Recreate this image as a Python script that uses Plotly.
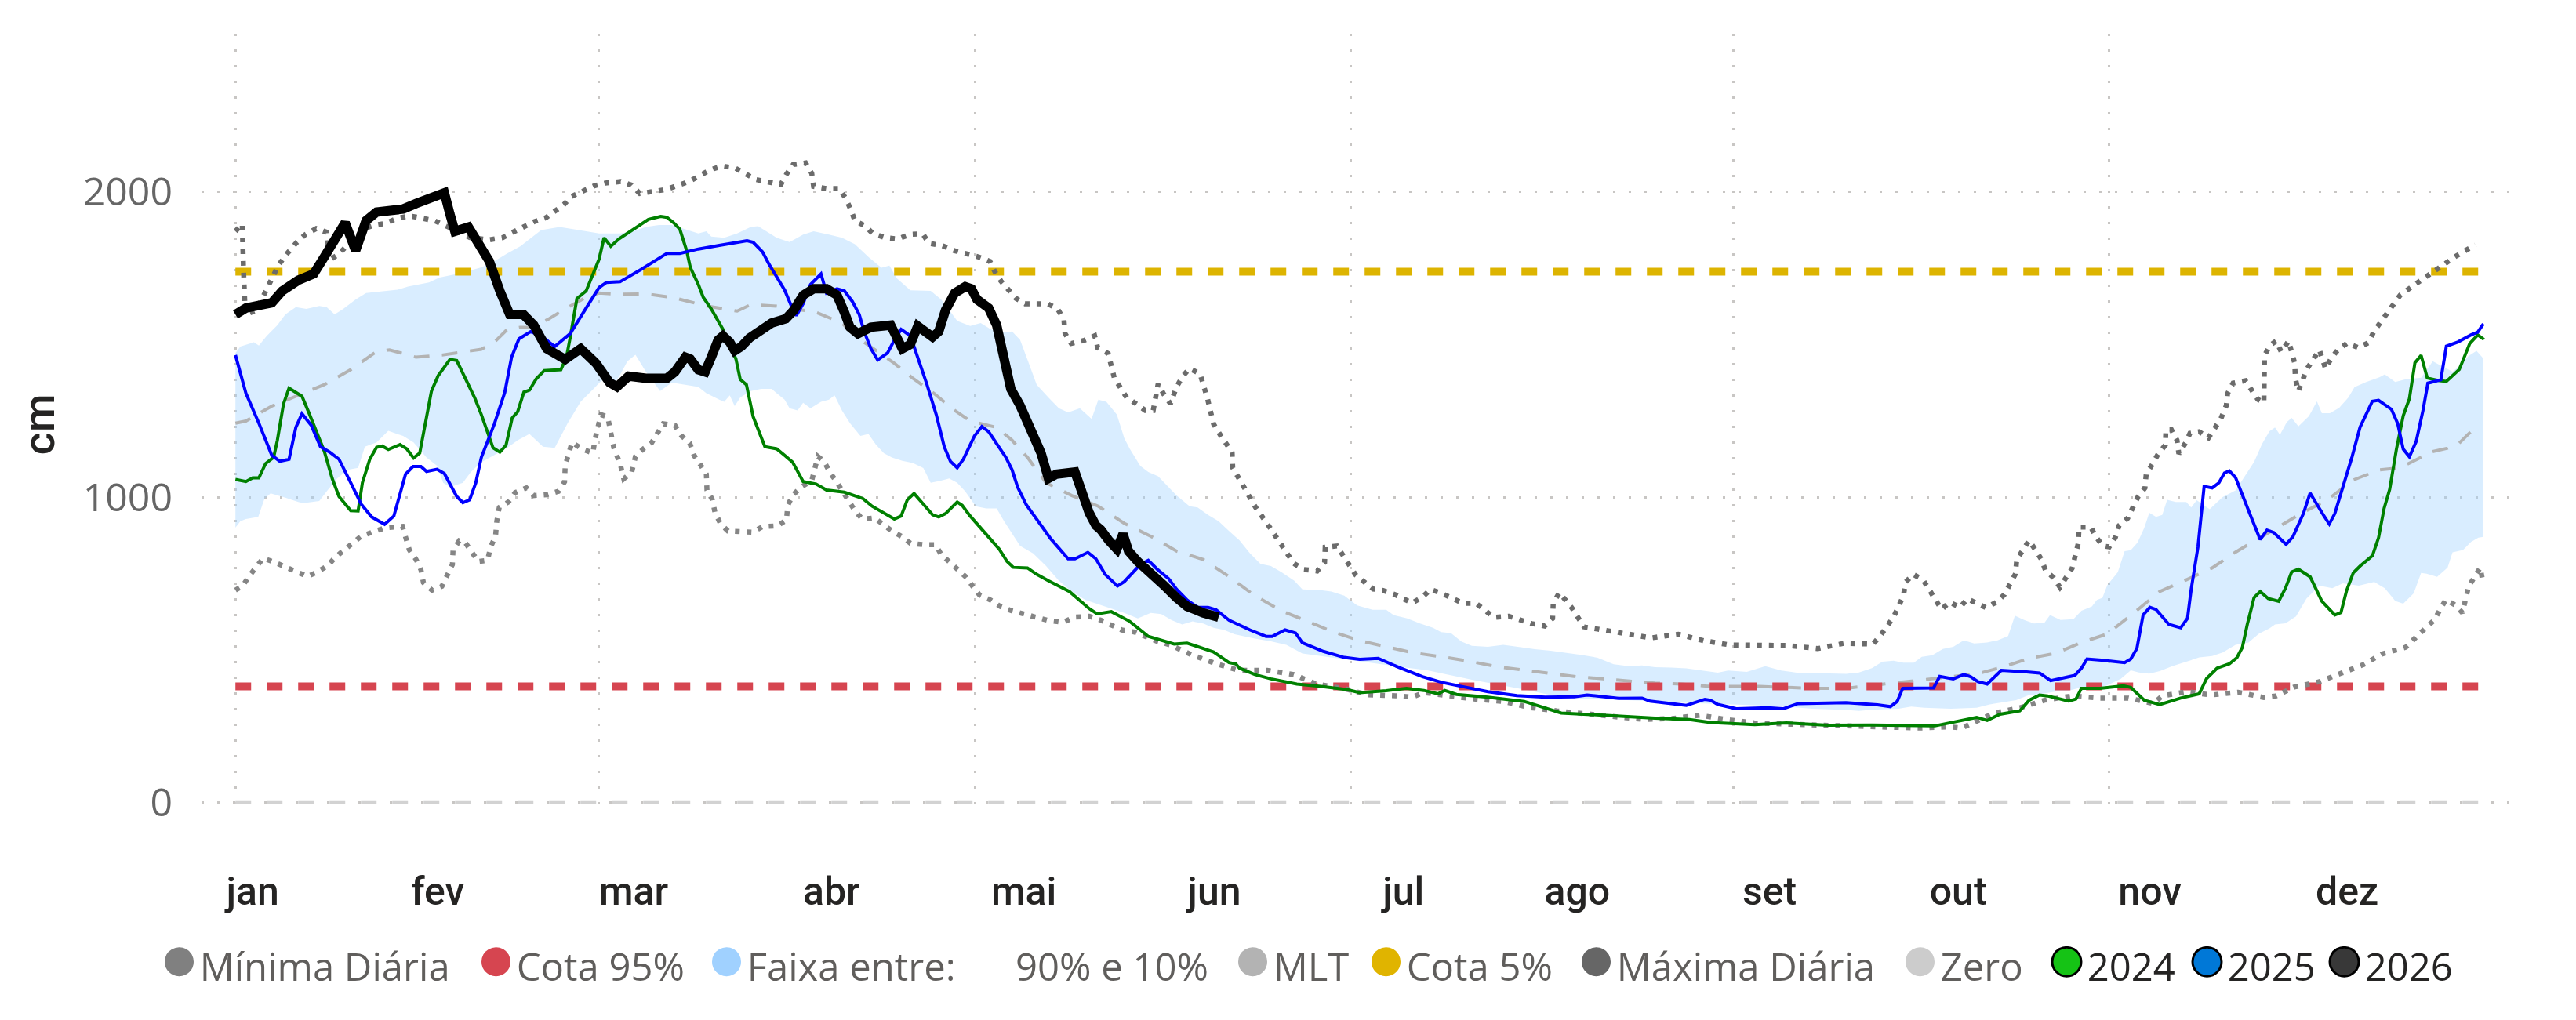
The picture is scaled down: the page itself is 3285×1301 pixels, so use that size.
import plotly.graph_objects as go

# ---------------- data (day of year, value in cm) ----------------
months = ["jan", "fev", "mar", "abr", "mai", "jun", "jul", "ago", "set", "out", "nov", "dez"]
month_label_days = [2.8, 32.8, 64.6, 96.7, 127.9, 158.8, 189.5, 217.7, 248.9, 279.5, 310.6, 342.6]
grid_days = [0, 59, 120, 181, 243, 304]
y_ticks = [0, 1000, 2000]
year_span = [0, 364.7]

cota_95 = 380
cota_5 = 1738
zero_level = 0

minima_diaria = [
    (0, 695), (1.2, 710), (2.2, 741), (3.3, 772), (4.5, 800), (6.3, 787), (8.1, 772), (9.8, 754),
    (11.7, 740), (13.4, 756), (15, 776), (16.2, 803), (17.5, 826), (19, 849), (20.4, 872),
    (22.3, 886), (24.2, 899), (27.1, 904), (28.2, 828), (29.3, 796), (30.1, 762), (30.5, 720),
    (31.9, 695), (33.5, 708), (34.4, 742), (35.2, 779), (35.3, 826), (36.3, 857), (37.3, 851),
    (38.3, 821), (39.4, 789), (40.9, 793), (41.4, 837), (42.2, 872), (42.4, 921), (42.8, 966),
    (44.3, 984), (45.4, 1015), (47.2, 1030), (48.4, 1005), (50.5, 1008), (52.4, 1019),
    (53.4, 1050), (53.5, 1103), (54.6, 1179), (56.2, 1158), (58, 1144), (58.3, 1186),
    (59.3, 1270), (60.4, 1262), (61.4, 1160), (62.4, 1110), (63, 1060), (64.3, 1082),
    (64.9, 1133), (66.3, 1160), (67.5, 1177), (68.4, 1207), (69.4, 1240), (71.3, 1235),
    (72.4, 1200), (73.7, 1177), (74.4, 1137), (75.4, 1107), (76.4, 1075), (76.5, 1023),
    (77.4, 991), (77.8, 949), (78.7, 913), (79.9, 889), (81.8, 889), (83.9, 885), (85.5, 903),
    (87.9, 906), (89.4, 925), (89.6, 973), (90.5, 1008), (91.8, 1033), (93.5, 1054),
    (94.5, 1133), (95.5, 1117), (96.4, 1082), (97.5, 1051), (98.4, 1019), (99.5, 987),
    (100.5, 956), (101.7, 928), (103.7, 932), (104.8, 914), (106.5, 889), (108.1, 871),
    (109.5, 849), (111.7, 844), (113.6, 844), (114.5, 812), (115.9, 786), (117.3, 763),
    (118.6, 737), (119.6, 708), (120.7, 680), (122.5, 663), (124.1, 642), (125.9, 628),
    (127.9, 617), (131.9, 596), (134.3, 590), (136.1, 607), (138.5, 610), (140.4, 597),
    (143.8, 565), (145.9, 558), (149.5, 528), (151.7, 516), (155.1, 484), (158.9, 456),
    (162.7, 433), (167.4, 433), (171.7, 419), (175.4, 388), (179.9, 373), (183.7, 353),
    (188.6, 349), (190.9, 345), (192.8, 360), (197, 349), (201.4, 338), (205.7, 331),
    (210, 311), (214.4, 300), (219.1, 290), (223.8, 282), (228.4, 272), (233.1, 275),
    (237.6, 286), (241.8, 272), (246.4, 261), (251.3, 257), (256, 254), (263.3, 247),
    (268.1, 247), (273.1, 244), (277.9, 248), (280.1, 244), (282, 262), (285.3, 293),
    (289.5, 310), (293.5, 335), (298, 349), (302.5, 342), (307.1, 342), (311.2, 324),
    (312.6, 349), (316.7, 363), (320.5, 352), (324.9, 361), (329.1, 344), (331.1, 349),
    (334, 378), (338, 395), (341.6, 423), (345.3, 452), (348.2, 486), (352.1, 508),
    (354.1, 548), (356.7, 597), (358.6, 664), (360.2, 646), (361.3, 621), (362.3, 707),
    (364.2, 769), (364.6, 725),
]

maxima_diaria = [
    (0, 1870), (1.1, 1894), (1.3, 1750), (1.6, 1597), (3.4, 1612), (5.2, 1688), (7, 1760),
    (8.5, 1800), (9.9, 1833), (11.3, 1859), (13.1, 1879), (14.8, 1867), (15.2, 1775),
    (16.6, 1793), (18, 1820), (19.5, 1850), (21, 1880), (22.5, 1890), (24.3, 1896),
    (26.1, 1911), (28.1, 1921), (30.3, 1913), (32.4, 1904), (35, 1880), (38, 1850),
    (41.1, 1842), (43.3, 1849), (45.2, 1869), (48.4, 1901), (50.4, 1915), (51.9, 1935),
    (53.3, 1958), (54.5, 1984), (56.2, 2000), (58.2, 2019), (60, 2028), (62.5, 2033),
    (64.2, 2022), (65.6, 1994), (69.9, 2007), (73.7, 2034), (77, 2071), (78.9, 2084),
    (81.1, 2077), (84.4, 2040), (86.5, 2031), (88.5, 2024), (89.4, 2057), (90.5, 2089),
    (92.5, 2094), (93.5, 2060), (93.8, 2017), (95.9, 2010), (98, 2010), (99, 1978),
    (99.8, 1943), (100.5, 1905), (102.2, 1887), (103.4, 1863), (105.4, 1849), (107.5, 1845),
    (109.4, 1860), (111.5, 1862), (112.5, 1831), (114.7, 1823), (116.6, 1807), (118.6, 1798),
    (120.6, 1786), (122.4, 1772), (123.2, 1738), (124.2, 1707), (125.4, 1678), (126.6, 1651),
    (128.1, 1633), (131.8, 1633), (133.4, 1615), (134.4, 1583), (134.6, 1535), (135.6, 1503),
    (137.7, 1513), (139.4, 1528), (139.9, 1489), (141.6, 1470), (142.6, 1389), (143.6, 1357),
    (144.6, 1326), (146.1, 1306), (147.6, 1284), (148.9, 1284), (149.7, 1371), (150.6, 1337),
    (151.7, 1306), (152.7, 1361), (153.7, 1396), (154.8, 1421), (156.5, 1403), (157.7, 1323),
    (158.7, 1239), (159.6, 1209), (161.7, 1146), (161.8, 1096), (163.7, 1033), (165.5, 967),
    (167.6, 907), (169.7, 846), (171.7, 783), (173.3, 763), (175.5, 758), (176.7, 786),
    (176.8, 836), (178.7, 840), (180.7, 775), (181.8, 744), (184.6, 699), (186.2, 694),
    (188.1, 681), (190.9, 653), (192.6, 673), (193.9, 698), (195.8, 684), (199.2, 652),
    (201.3, 652), (204.2, 606), (206.6, 610), (210.3, 586), (212.4, 578), (213.7, 603),
    (213.8, 653), (214.8, 687), (216.8, 638), (218.8, 575), (221, 568), (225.5, 555),
    (229.7, 539), (234.1, 551), (238.2, 530), (242.5, 516), (247.3, 514), (252, 514),
    (256.7, 504), (260.9, 521), (265.7, 519), (266.9, 547), (269, 607), (270.6, 676),
    (271, 722), (272.2, 747), (273.8, 729), (275.7, 663), (276.8, 632), (278.1, 656),
    (279.8, 639), (281, 667), (284, 638), (285.7, 656), (287, 681), (288.8, 749), (289, 796),
    (290, 826), (291, 858), (292, 828), (293, 796), (293.7, 758), (295, 736), (296, 705),
    (297, 737), (298, 768), (299, 850), (299.1, 902), (301, 902), (301.9, 868), (303, 840),
    (304, 837), (305, 868), (305.6, 907), (307, 931), (308.7, 1002), (309.8, 1030),
    (310, 1075), (311, 1107), (311.9, 1140), (313.1, 1170), (313.2, 1220), (314.1, 1220),
    (315, 1186), (315.3, 1142), (316.4, 1178), (317.1, 1209), (318.6, 1214), (320.1, 1194),
    (321.1, 1226), (322.1, 1256), (323, 1300), (323.2, 1339), (324.1, 1373), (326.1, 1381),
    (328.1, 1320), (329.1, 1309), (329.2, 1464), (330.1, 1497), (331.1, 1511), (331.9, 1476),
    (333.1, 1511), (334.1, 1438), (334.2, 1388), (334.7, 1347), (336.1, 1420), (337.1, 1452),
    (338.1, 1482), (339.1, 1420), (340, 1454), (341.1, 1482), (342.6, 1504), (344.4, 1489),
    (346.1, 1506), (346.9, 1541), (349, 1602), (351.2, 1661), (354.1, 1703), (357.1, 1745),
    (360.2, 1788), (363.4, 1826),
]

faixa_90 = [
    (0, 1472), (0.8, 1493), (3, 1507), (3.8, 1496), (5.1, 1528), (6.8, 1563), (8.1, 1598),
    (9.8, 1622), (11.5, 1616), (13.6, 1626), (14.8, 1622), (16.1, 1598), (17.4, 1615),
    (19.5, 1647), (21.2, 1668), (22.9, 1672), (26.3, 1679), (28, 1689), (31.4, 1703),
    (33.1, 1719), (36.5, 1733), (39.9, 1752), (42, 1772), (44.1, 1798), (46.2, 1821),
    (49.6, 1874), (52.6, 1884), (56.9, 1870), (59, 1863), (62.4, 1863), (64.5, 1870),
    (66.6, 1884), (68.7, 1891), (70.8, 1891), (73, 1877), (75.1, 1863), (76.4, 1870),
    (77.2, 1853), (79.3, 1849), (81.4, 1863), (83.6, 1884), (84.8, 1887), (87.8, 1849),
    (89.9, 1835), (92.1, 1859), (93.8, 1870), (96.3, 1859), (98.4, 1849), (100.5, 1828),
    (102.7, 1786), (104.8, 1751), (106.1, 1758), (107.3, 1716), (109.5, 1677), (112.8, 1675),
    (114.5, 1647), (115.8, 1612), (117.1, 1577), (119.2, 1560), (120.9, 1570), (122.6, 1549),
    (124.3, 1538), (126, 1542), (127.3, 1515), (128.5, 1450), (130, 1368), (131.9, 1326),
    (133.6, 1291), (135.1, 1277), (137, 1291), (138.9, 1256), (140, 1319), (141.3, 1312),
    (143, 1270), (144.2, 1193), (145.1, 1158), (146.8, 1102), (148.1, 1082), (149.7, 1068),
    (151, 1040), (152.7, 1005), (154.8, 970), (156.1, 966), (157.8, 942), (159.5, 921),
    (161.2, 889), (162.9, 858), (164.6, 816), (166.3, 781), (168, 774), (169.7, 754),
    (171.8, 726), (173.1, 698), (176.1, 695), (177.8, 691), (179.9, 677), (182, 645),
    (184.5, 631), (186.7, 631), (187.9, 614), (190.1, 603), (192.2, 586), (194.3, 572),
    (195.6, 558), (197.2, 555), (198.9, 527), (200.6, 513), (203.2, 510), (205.7, 516),
    (208.3, 509), (210.8, 502), (213.4, 497), (215.9, 490), (218.5, 483), (221, 474),
    (223.6, 453), (226.1, 446), (228.2, 449), (230.3, 443), (232.9, 442), (235.4, 439),
    (238, 432), (240.5, 425), (242.2, 432), (245.2, 428), (248.2, 446), (250.8, 432),
    (253.3, 425), (255.9, 424), (261.3, 421), (263.4, 426), (265.5, 440), (267.2, 461),
    (269, 464), (270.6, 458), (272.3, 458), (273.6, 477), (275.3, 482), (277, 503),
    (278.7, 510), (280.4, 531), (282.1, 521), (284.2, 524), (285.9, 531), (287.6, 545),
    (288.7, 612), (290.2, 598), (291.8, 586), (293.5, 589), (294.4, 614), (296.1, 598),
    (298.2, 600), (299.5, 628), (301.2, 642), (302, 663), (302.9, 670), (303.7, 712),
    (305.4, 754), (306.5, 823), (307.5, 826), (308.6, 851), (309.7, 900), (310.5, 949),
    (311.6, 935), (312.6, 942), (313.4, 991), (314.8, 984), (316.5, 984), (317.3, 966),
    (318.2, 990), (320.3, 960), (322.4, 1000), (324.5, 1022), (326.2, 1073), (327.5, 1115),
    (328.8, 1174), (330, 1216), (330.9, 1228), (331.7, 1204), (332.8, 1245), (333.6, 1259),
    (334.7, 1232), (336.4, 1265), (337.7, 1313), (338.5, 1275), (339.8, 1275), (341.3, 1292),
    (342.8, 1326), (343.8, 1360), (345.7, 1377), (347.9, 1393), (348.7, 1402), (350.4, 1377),
    (352.1, 1386), (354.6, 1391), (356.5, 1445), (358, 1428), (359.7, 1411), (360.6, 1425),
    (362.3, 1462), (363.6, 1479), (364.7, 1454),
]

faixa_10 = [
    (0, 900), (0.8, 921), (1.7, 928), (3.7, 935), (4.7, 994), (5.7, 1012), (8.1, 998),
    (10.2, 984), (11, 980), (13.6, 987), (14.8, 1019), (16.5, 1061), (18.2, 1089),
    (19.9, 1096), (21, 1165), (22.9, 1179), (24.8, 1217), (27.2, 1200), (28.9, 1179),
    (31, 1130), (32.7, 1103), (33.7, 1047), (34.8, 1033), (36.9, 1047), (38.2, 1082),
    (39.9, 1114), (42, 1137), (44.1, 1161), (45.8, 1186), (47.7, 1207), (49.9, 1165),
    (51.8, 1161), (53.9, 1242), (56, 1312), (58.1, 1354), (59.4, 1382), (61.1, 1361),
    (62.4, 1400), (63.6, 1445), (64.9, 1466), (66.6, 1410), (68.9, 1347), (70.8, 1375),
    (73, 1368), (75.1, 1361), (76.4, 1340), (78.5, 1319), (79.3, 1312), (80.2, 1333),
    (81, 1298), (81.9, 1326), (83.6, 1347), (85.3, 1354), (87, 1354), (87.8, 1340),
    (89.1, 1319), (89.9, 1291), (91.2, 1284), (92.1, 1309), (93.3, 1291), (95, 1312),
    (96.3, 1319), (97.2, 1333), (98.4, 1284), (99.7, 1242), (101.4, 1200), (102.7, 1207),
    (103.9, 1172), (105.2, 1144), (106.5, 1130), (108.2, 1119), (109.9, 1112), (111.6, 1095),
    (112.8, 1047), (114.5, 1054), (115.8, 1061), (117.1, 1047), (118.4, 1019), (120.1, 970),
    (121.8, 963), (123.5, 963), (124.7, 921), (126, 879), (127.3, 840), (129.4, 816),
    (131.5, 775), (133.6, 726), (135.7, 691), (137.9, 663), (140, 649), (142.1, 635),
    (144.2, 621), (146.4, 603), (148.5, 621), (150.2, 617), (151.9, 597), (153.6, 583),
    (155.3, 593), (157, 586), (158.7, 572), (160.4, 565), (162.1, 551), (163.8, 544),
    (165.4, 537), (168, 528), (170.5, 516), (173.1, 488), (175.6, 481), (178.2, 474),
    (180.7, 467), (183.3, 460), (185.8, 453), (188.4, 446), (190.9, 439), (193.4, 433),
    (200.6, 402), (209.1, 370), (213.4, 352), (217.6, 341), (221.9, 338), (226.1, 335),
    (230.3, 332), (234.6, 327), (238.8, 324), (243.1, 321), (247.3, 318), (251.6, 314),
    (255.8, 307), (261.3, 303), (263.4, 300), (265.5, 304), (269.8, 307), (271.9, 314),
    (274, 310), (278.3, 307), (282.5, 310), (284.6, 321), (286.8, 328), (288.9, 335),
    (291, 352), (293.1, 356), (295.2, 363), (297.4, 366), (299.5, 377), (301.6, 370),
    (303.7, 384), (305.9, 405), (307.5, 433), (308.8, 426), (310.5, 422), (312.2, 430),
    (314.3, 447), (316.5, 461), (318.6, 475), (320.7, 480), (322.4, 491), (324.5, 516),
    (326.6, 524), (328.3, 553), (330, 570), (330.9, 583), (332.6, 587), (334.3, 609),
    (336, 668), (338.1, 710), (340.2, 702), (341.9, 718), (344.5, 710), (347, 722),
    (348.7, 702), (350.4, 660), (351.7, 651), (353.4, 685), (354.6, 752), (355.5, 749),
    (357.2, 739), (358.9, 769), (359.7, 819), (361.4, 827), (362.7, 853), (363.9, 867),
    (364.7, 870),
]

mlt = [
    (0, 1242), (1.7, 1249), (5.9, 1298), (10.2, 1333), (14.4, 1368), (18.7, 1417),
    (22.9, 1477), (25, 1482), (29.3, 1458), (33.5, 1465), (37.8, 1479), (39.9, 1484),
    (42, 1507), (44.1, 1549), (46.2, 1556), (48.4, 1556), (50.9, 1584), (53.5, 1616),
    (56.9, 1654), (59, 1668), (62.4, 1664), (66.6, 1665), (70.8, 1654), (76.4, 1626),
    (81.4, 1609), (83.6, 1630), (87.8, 1625), (91.2, 1615), (94.2, 1605), (98.4, 1570),
    (100.5, 1528), (104, 1479), (106.9, 1438), (109.9, 1389), (113.3, 1340), (116.2, 1291),
    (119.2, 1249), (123.5, 1228), (126, 1186), (128.5, 1130), (131.5, 1047), (135.7, 1005),
    (140, 970), (144.2, 914), (148.5, 872), (152.7, 823), (157, 796), (161.2, 740),
    (165.4, 677), (169.7, 628), (173.9, 593), (178.2, 558), (182.4, 530), (186.7, 509),
    (190.9, 491), (196.4, 475), (200.6, 461), (204.9, 444), (209.1, 433), (213.4, 422),
    (217.6, 412), (221.9, 405), (226.1, 397), (230.3, 391), (234.6, 388), (238.8, 381),
    (243.1, 380), (247.3, 380), (251.6, 377), (255.8, 374), (261.3, 374), (265.5, 384),
    (269.8, 393), (274, 402), (278.3, 412), (282.5, 421), (286.8, 444), (291, 472),
    (295.2, 488), (299.5, 524), (303.7, 552), (308, 621), (312.2, 691), (316.5, 729),
    (320.7, 768), (324.5, 820), (330.9, 895), (335.1, 946), (339.4, 991), (343.6, 1056),
    (347.8, 1089), (351.2, 1096), (353.4, 1118), (356.3, 1148), (358.9, 1160), (360.6, 1173),
    (362.3, 1207), (363.8, 1233),
]

ano_2024 = [
    (0, 1058), (1.7, 1051), (2.8, 1063), (3.8, 1063), (4.9, 1110), (6.2, 1130), (6.8, 1186),
    (7.8, 1305), (8.7, 1357), (10.8, 1330), (11.9, 1277), (14.4, 1151), (15.7, 1061),
    (16.8, 1002), (18.7, 956), (19.9, 955), (20.6, 1047), (21.8, 1124), (22.9, 1163),
    (23.8, 1167), (24.8, 1156), (26.7, 1172), (27.8, 1158), (28.9, 1128), (29.9, 1144),
    (31, 1263), (31.8, 1347), (32.9, 1398), (34.8, 1451), (35.9, 1447), (37.3, 1389),
    (38.8, 1326), (39.9, 1270), (41.8, 1161), (42.9, 1147), (43.9, 1170), (44.9, 1259),
    (45.8, 1280), (46.8, 1344), (47.7, 1350), (48.8, 1387), (50.1, 1414), (52.8, 1417),
    (53.7, 1458), (54.3, 1521), (55.4, 1650), (56.9, 1675), (59, 1779), (59.8, 1849),
    (60.9, 1821), (62.2, 1845), (64.1, 1870), (65.8, 1891), (67, 1909), (69, 1919),
    (70, 1916), (71.1, 1898), (72.1, 1877), (73.2, 1807), (73.8, 1752), (75.1, 1696),
    (75.9, 1654), (77.2, 1616), (79.1, 1549), (81.2, 1452), (81.9, 1385), (82.9, 1368),
    (84, 1263), (85.9, 1165), (87.8, 1158), (89.1, 1137), (90.4, 1114), (92.1, 1051),
    (94.2, 1043), (95.9, 1023), (98.8, 1016), (101.8, 995), (103.3, 970), (106.9, 928),
    (108, 938), (109, 991), (110.1, 1012), (111.6, 977), (113.1, 942), (114.1, 935),
    (115.2, 946), (117.1, 984), (117.9, 973), (119.2, 938), (120.9, 900), (122.2, 868),
    (123.9, 830), (125.2, 789), (126.2, 770), (128.5, 768), (130, 747), (131.9, 726),
    (135.3, 691), (138.5, 635), (139.8, 618), (142.1, 625), (145.1, 593), (148.1, 544),
    (152.3, 519), (154.4, 522), (156.5, 509), (158.7, 493), (161.2, 458), (162.3, 454),
    (162.9, 440), (165.4, 419), (168, 405), (172.2, 388), (176.1, 380), (180.3, 370),
    (182.4, 360), (186.7, 366), (190, 374), (192.8, 367), (195.1, 356), (196.2, 367),
    (198.1, 354), (203.2, 345), (209.1, 331), (212.5, 310), (215.1, 293), (221.9, 286),
    (230.3, 276), (235.9, 272), (239.3, 262), (246.5, 255), (251.6, 261), (258.3, 253),
    (265.5, 254), (275.7, 251), (280.4, 271), (282.5, 279), (284.2, 269), (286.3, 289),
    (289.5, 300), (291, 335), (292.7, 352), (294, 349), (297.4, 332), (298.6, 339),
    (299.5, 374), (302.5, 374), (306.3, 382), (307.5, 377), (309.7, 335), (312.2, 321),
    (315.6, 342), (318.6, 356), (319.8, 406), (321.5, 440), (323.5, 454), (324.7, 474),
    (325.6, 508), (326.4, 583), (327.5, 671), (328.5, 691), (329.8, 668), (331.5, 659),
    (332.6, 702), (333.6, 755), (334.7, 764), (336.6, 739), (338.5, 659), (340.6, 614),
    (341.6, 622), (342.5, 693), (343.6, 752), (344.7, 774), (346.7, 808), (347.7, 867),
    (348.6, 963), (349.5, 1025), (350.6, 1157), (351.7, 1266), (352.7, 1322), (353.6, 1440),
    (354.6, 1464), (355.6, 1390), (357.6, 1381), (358.7, 1379), (360.8, 1418), (362.5, 1503),
    (363.8, 1531), (364.8, 1516),
]

ano_2025 = [
    (0, 1465), (1.7, 1340), (3.8, 1242), (5.9, 1137), (7.2, 1117), (8.7, 1124), (9.8, 1228),
    (10.8, 1273), (12.3, 1235), (13.8, 1165), (15.3, 1147), (16.8, 1124), (18.7, 1047),
    (20.4, 977), (22.1, 935), (24.2, 911), (25.7, 938), (27.6, 1075), (28.8, 1100),
    (30.1, 1100), (31, 1084), (32.7, 1091), (33.9, 1077), (35.9, 1002), (36.9, 982),
    (38, 991), (39, 1047), (39.9, 1130), (42, 1239), (43.7, 1343), (44.8, 1458), (46, 1518),
    (47.9, 1542), (49.6, 1528), (51.8, 1493), (54.3, 1535), (56.9, 1619), (59, 1686),
    (60.2, 1703), (62.4, 1705), (65.8, 1745), (67.9, 1772), (70, 1798), (72.1, 1798),
    (75.1, 1812), (78.5, 1824), (83, 1839), (84, 1834), (85.5, 1803), (86.5, 1765),
    (87.8, 1719), (89.1, 1678), (90.4, 1616), (91, 1594), (92.1, 1633), (93.3, 1696),
    (95, 1731), (95.9, 1668), (97.6, 1682), (98.8, 1675), (100.1, 1640), (101.2, 1598),
    (102, 1542), (103.1, 1486), (104.2, 1449), (105.8, 1472), (106.9, 1514), (108, 1549),
    (109.5, 1528), (110.7, 1458), (112.2, 1368), (113.7, 1270), (115, 1165), (116, 1117),
    (117.1, 1096), (118.1, 1124), (119.9, 1200), (121.1, 1231), (122.2, 1214), (123.5, 1175),
    (125, 1130), (126, 1089), (126.9, 1033), (128.3, 975), (129.8, 932), (132.3, 863),
    (135.1, 798), (136.2, 798), (138.3, 819), (139.6, 798), (141.1, 747), (143.1, 709),
    (144.2, 723), (146.8, 779), (148.1, 793), (149.7, 761), (151.4, 733), (152.7, 698),
    (154.4, 663), (156.1, 639), (157.8, 639), (159.1, 631), (161.2, 597), (164.6, 565),
    (167.2, 544), (168.2, 544), (170.3, 565), (172, 555), (173.1, 523), (176.5, 495),
    (179.9, 475), (182.4, 469), (185.4, 472), (188.8, 442), (192.6, 412), (195.6, 394),
    (199, 380), (203.2, 363), (207.9, 350), (212.5, 345), (217.2, 346), (219.3, 352),
    (224.4, 341), (228.2, 342), (229.5, 332), (234.6, 322), (235.4, 318), (238.4, 338),
    (239.3, 335), (240.5, 321), (243.5, 307), (248.6, 310), (251.1, 307), (253.5, 324),
    (257.1, 326), (261.3, 327), (266.4, 320), (268.5, 314), (269.6, 331), (270.5, 374),
    (275.5, 375), (276.5, 413), (278.7, 405), (280.4, 419), (281.5, 412), (282.7, 396),
    (284.2, 388), (286.5, 433), (290.6, 428), (292.7, 424), (294.5, 399), (298.4, 416),
    (299.5, 440), (300.4, 470), (302.7, 466), (306.5, 458), (307.5, 470), (308.5, 505),
    (309.5, 614), (310.6, 639), (311.6, 632), (313.7, 583), (315.6, 572), (316.7, 603),
    (317.3, 698), (318.4, 837), (319.4, 1035), (320.7, 1030), (321.8, 1047), (322.7, 1079),
    (323.5, 1086), (324.5, 1064), (326.8, 946), (328.5, 861), (329.6, 892), (330.7, 884),
    (332.7, 845), (333.8, 870), (335.5, 946), (336.6, 1013), (338.7, 943), (339.7, 912),
    (340.6, 946), (341.9, 1030), (343.4, 1132), (344.7, 1229), (346.7, 1314), (347.7, 1317),
    (349.8, 1287), (350.8, 1241), (351.7, 1157), (352.7, 1132), (353.8, 1182), (354.9, 1283),
    (355.7, 1373), (357.8, 1384), (358.7, 1494), (360.6, 1508), (362.7, 1531), (363.8, 1540),
    (364.7, 1567),
]

ano_2026 = [
    (0, 1598), (1.7, 1619), (5.9, 1636), (7.6, 1675), (10.2, 1710), (12.7, 1731),
    (14.4, 1786), (16.1, 1849), (17.8, 1898), (19.5, 1807), (21.2, 1905), (22.9, 1933),
    (27.2, 1943), (29.3, 1961), (31.4, 1979), (33.9, 1996), (34.8, 1926), (35.6, 1870),
    (37.8, 1884), (39.5, 1828), (41.2, 1772), (42.9, 1675), (44.5, 1598), (46.7, 1598),
    (48.4, 1563), (50.5, 1486), (53.5, 1451), (56, 1486), (58.5, 1438), (60.7, 1375),
    (61.9, 1361), (63.8, 1396), (66.6, 1389), (70, 1389), (71.3, 1410), (73, 1458),
    (73.8, 1452), (75.1, 1417), (76.2, 1410), (77.2, 1458), (78.3, 1514), (79.1, 1528),
    (80.2, 1507), (81, 1479), (82.1, 1493), (83.4, 1521), (85.3, 1549), (87, 1570),
    (89.3, 1584), (90.6, 1612), (92.1, 1661), (93.8, 1682), (95.9, 1682), (97.6, 1661),
    (98.8, 1605), (99.7, 1556), (101, 1535), (103.1, 1556), (106.3, 1563), (107.3, 1521),
    (108.2, 1486), (109.5, 1500), (110.7, 1560), (113.1, 1524), (114.1, 1542), (115.2, 1612),
    (116.7, 1668), (118.4, 1689), (119.4, 1682), (120.3, 1647), (122.2, 1619), (123.5, 1563),
    (124.7, 1451), (125.8, 1354), (127.3, 1300), (129.4, 1214), (130.7, 1144), (131.9, 1061),
    (133.2, 1075), (136.2, 1082), (137.4, 1005), (138.5, 949), (139.6, 907), (140.4, 893),
    (141.7, 858), (143, 830), (144, 879), (144.9, 823), (146.4, 789), (148.5, 754),
    (150.6, 712), (152.7, 670), (154.4, 642), (157, 621), (159.5, 607),
]

# ---------------- styles ----------------
C_MIN = "#858585"
C_MAX = "#6B6B6B"
C_C95 = "#D64550"
C_C5 = "#DDB400"
C_BAND = "rgba(160,209,255,0.40)"
C_MLT = "#B3B3B3"
C_ZERO = "#D2D2D2"
C_2024 = "#008000"
C_2025 = "#0000FF"
C_2026 = "#000000"


def xs(pts):
    return [p[0] for p in pts]


def ys(pts):
    return [p[1] for p in pts]


fig = go.Figure()

# band 10%-90%
fig.add_trace(go.Scatter(
    x=xs(faixa_90) + xs(faixa_10)[::-1],
    y=ys(faixa_90) + ys(faixa_10)[::-1],
    fill="toself", fillcolor=C_BAND, line=dict(width=0), mode="lines",
    name="Faixa entre: 90% e 10%", showlegend=False, hoverinfo="skip"))

fig.add_trace(go.Scatter(x=xs(mlt), y=ys(mlt), mode="lines", name="MLT", showlegend=False,
                         line=dict(color=C_MLT, width=4, dash="20px,16px")))
fig.add_trace(go.Scatter(x=year_span, y=[zero_level, zero_level], mode="lines", name="Zero",
                         showlegend=False, line=dict(color=C_ZERO, width=4, dash="20px,20px")))
fig.add_trace(go.Scatter(x=year_span, y=[cota_95, cota_95], mode="lines", name="Cota 95%",
                         showlegend=False, line=dict(color=C_C95, width=10, dash="20px,20px")))
fig.add_trace(go.Scatter(x=year_span, y=[cota_5, cota_5], mode="lines", name="Cota 5%",
                         showlegend=False, line=dict(color=C_C5, width=10, dash="20px,20px")))
fig.add_trace(go.Scatter(x=xs(minima_diaria), y=ys(minima_diaria), mode="lines",
                         name="Mínima Diária", showlegend=False,
                         line=dict(color=C_MIN, width=6.5, dash="6px,9px")))
fig.add_trace(go.Scatter(x=xs(maxima_diaria), y=ys(maxima_diaria), mode="lines",
                         name="Máxima Diária", showlegend=False,
                         line=dict(color=C_MAX, width=6.5, dash="6px,9px")))
fig.add_trace(go.Scatter(x=xs(ano_2024), y=ys(ano_2024), mode="lines", name="2024",
                         showlegend=False, line=dict(color=C_2024, width=4)))
fig.add_trace(go.Scatter(x=xs(ano_2025), y=ys(ano_2025), mode="lines", name="2025",
                         showlegend=False, line=dict(color=C_2025, width=4)))
fig.add_trace(go.Scatter(x=xs(ano_2026), y=ys(ano_2026), mode="lines", name="2026",
                         showlegend=False, line=dict(color=C_2026, width=12)))

# legend entries (big round bullets like the original); last value = entry width in px
NB = "\u00a0"
legend_items = [
    ("Mínima Diária", "#808080", False, 359),
    ("Cota 95%", "#D64550", False, 249),
    ("Faixa entre:" + NB * 6 + "90% e 10%", "#A0D1FF", False, 626),
    ("MLT", "#B3B3B3", False, 125),
    ("Cota 5%", "#E0B400", False, 223),
    ("Máxima Diária", "#666666", False, 368),
    ("Zero", "#CCCCCC", False, 142),
    ("2024", "#15C315", True, 134),
    ("2025", "#0078D7", True, 130),
    ("2026", "#383838", True, 160),
]
for label, color, outlined, entry_w in legend_items:
    style = f"fill:{color};font-size:86px"
    if outlined:
        style += ";stroke:#000000;stroke-width:3px"
    text_color = "#252423" if outlined else "#605E5C"
    fig.add_trace(go.Scatter(
        x=[None], y=[None], mode="markers",
        marker=dict(size=1, color="rgba(0,0,0,0)"),
        name=(f'<span style="{style}">●</span>'
              f'<span style="fill:{text_color}">{label}</span>'),
        legendwidth=entry_w,
        showlegend=True, hoverinfo="skip"))

fig.update_layout(
    width=3285, height=1301,
    margin=dict(l=249, r=90, t=35, b=269, autoexpand=False),
    paper_bgcolor="white", plot_bgcolor="white",
    showlegend=True,
    legend=dict(orientation="h", x=-0.032, xanchor="left", y=-0.193, yanchor="middle",
                font=dict(family="Open Sans", size=49, color="#605E5C"),
                itemwidth=30, bgcolor="rgba(0,0,0,0)", traceorder="normal"),
    xaxis=dict(
        range=[-5.5, 369.3], showgrid=False, zeroline=False, showline=False,
        tickmode="array", tickvals=month_label_days, ticktext=months,
        ticks="", ticklabelstandoff=63,
        tickfont=dict(family="Roboto", size=50, color="#252423", weight=500),
        minor=dict(tickmode="array", tickvals=grid_days, showgrid=True,
                   gridcolor="#C8C6C4", gridwidth=3, griddash="3px,17px", ticks=""),
    ),
    yaxis=dict(
        range=[-42, 2517], tickmode="array", tickvals=y_ticks,
        showgrid=True, gridcolor="#C8C6C4", gridwidth=3, griddash="3px,17px",
        zeroline=False, showline=False, ticks="", ticklabelstandoff=36,
        tickfont=dict(family="Open Sans", size=50, color="#666666"),
        title=dict(text="cm", standoff=18,
                   font=dict(family="Roboto", size=56, color="#252423", weight=500)),
    ),
)

fig.write_html("out.html")
